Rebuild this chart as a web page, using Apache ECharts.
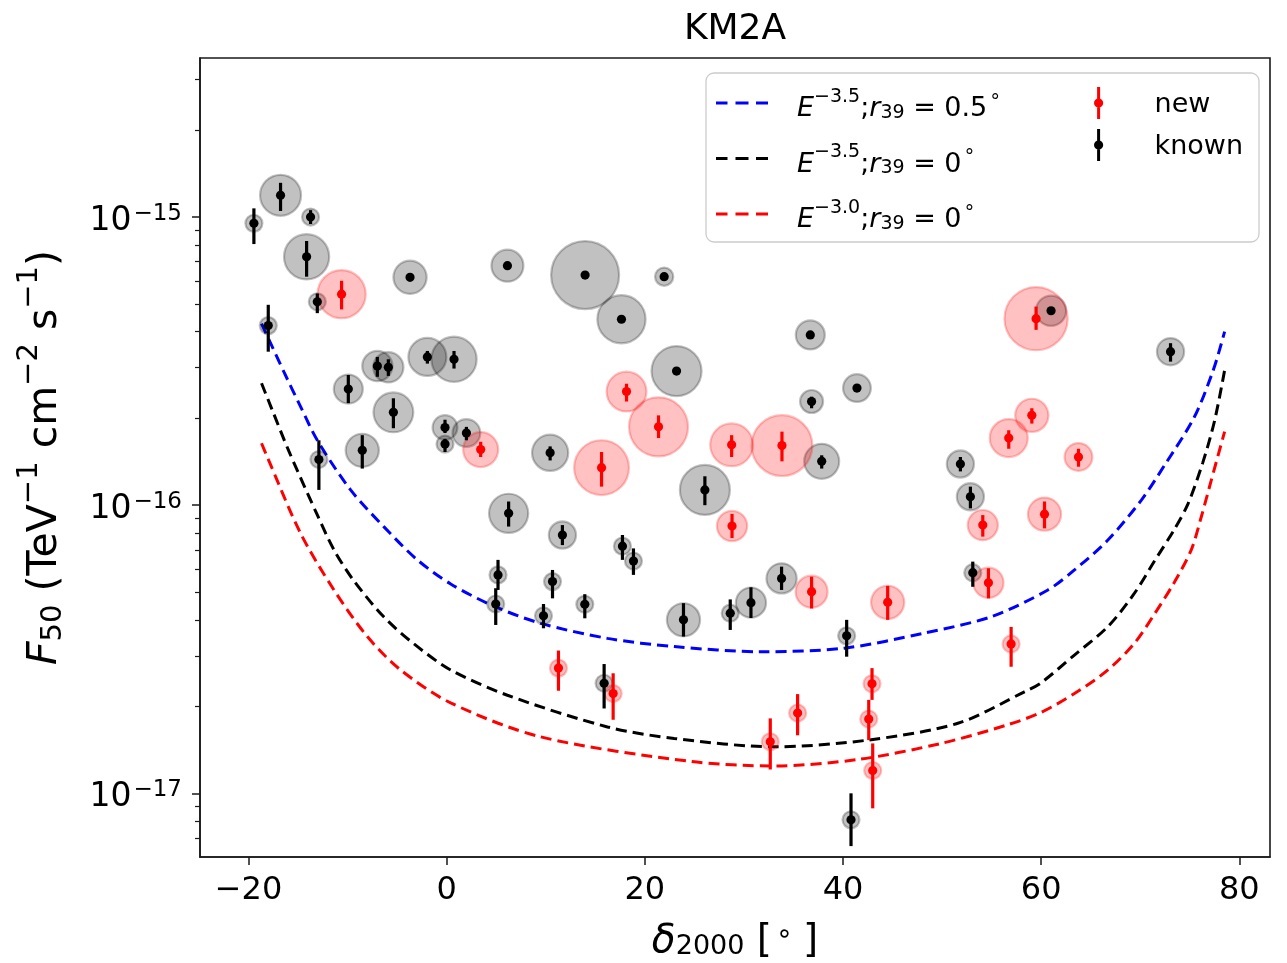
<!DOCTYPE html>
<html>
<head>
<meta charset="utf-8">
<title>KM2A</title>
<script src="https://cdn.jsdelivr.net/npm/echarts@6/dist/echarts.min.js"></script>
<style>
  html, body { margin: 0; padding: 0; background: #ffffff; }
  #chart { width: 1287px; height: 963px; }
</style>
</head>
<body>
<div id="chart"></div>
<script>
// ---------------------------------------------------------------------------
// Known sources: declination [deg], F50 flux, lower / upper error, extension
// ---------------------------------------------------------------------------
const knownDec  = [-16.77, -19.46, -13.74, -14.14, -13.06, -3.70, 6.13, -18.01, -7.00, -5.89,
                   -1.95, 0.74, -9.93, -5.38, -0.17, -0.17, 1.99, 10.44, -12.90, -8.52,
                   6.25, 13.97, 21.95, 17.64, 23.20, 36.70, 41.41, 36.83, 37.85, 26.06,
                   61.00, 73.06, 51.85, 52.86, 11.68, 17.74, 18.85, 5.18, 4.95, 10.68,
                   13.94, 9.77, 23.90, 28.62, 30.71, 15.89, 33.80, 40.37, 53.10, 40.81];
const knownFlux = [1.19e-15, 9.51e-16, 1.00e-15, 7.28e-16, 5.08e-16, 6.18e-16, 6.78e-16, 4.20e-16, 3.04e-16, 3.01e-16,
                   3.27e-16, 3.21e-16, 2.53e-16, 2.10e-16, 1.86e-16, 1.63e-16, 1.78e-16, 1.52e-16, 1.44e-16, 1.55e-16,
                   9.37e-17, 6.29e-16, 6.21e-16, 4.42e-16, 2.92e-16, 3.90e-16, 2.55e-16, 2.29e-16, 1.42e-16, 1.13e-16,
                   4.73e-16, 3.41e-16, 1.39e-16, 1.07e-16, 7.88e-17, 7.21e-17, 6.40e-17, 5.73e-17, 4.54e-17, 5.43e-17,
                   4.53e-17, 4.13e-17, 4.00e-17, 4.22e-17, 4.59e-17, 2.41e-17, 5.57e-17, 3.52e-17, 5.83e-17, 8.09e-18];
const knownLow  = [1.05e-15, 8.06e-16, 9.46e-16, 6.21e-16, 4.64e-16, 6.00e-16, 6.58e-16, 3.41e-16, 2.79e-16, 2.81e-16,
                   3.10e-16, 2.98e-16, 2.26e-16, 1.85e-16, 1.78e-16, 1.53e-16, 1.68e-16, 1.43e-16, 1.13e-16, 1.34e-16,
                   8.43e-17, 6.12e-16, 6.05e-16, 4.30e-16, 2.84e-16, 3.80e-16, 2.48e-16, 2.17e-16, 1.34e-16, 1.00e-16,
                   4.60e-16, 3.15e-16, 1.31e-16, 9.75e-17, 7.27e-17, 6.46e-17, 5.73e-17, 5.08e-17, 3.84e-17, 4.75e-17,
                   4.05e-17, 3.74e-17, 3.50e-17, 3.69e-17, 4.06e-17, 1.97e-17, 5.08e-17, 2.98e-17, 5.21e-17, 6.56e-18];
const knownHigh = [1.315e-15, 1.072e-15, 1.057e-15, 8.26e-16, 5.43e-16, 6.36e-16, 6.98e-16, 4.96e-16, 3.27e-16, 3.21e-16,
                   3.43e-16, 3.43e-16, 2.83e-16, 2.35e-16, 1.98e-16, 1.70e-16, 1.87e-16, 1.60e-16, 1.68e-16, 1.75e-16,
                   1.03e-16, 6.46e-16, 6.38e-16, 4.55e-16, 3.00e-16, 4.00e-16, 2.62e-16, 2.38e-16, 1.49e-16, 1.26e-16,
                   4.86e-16, 3.65e-16, 1.47e-16, 1.16e-16, 8.53e-17, 7.88e-17, 7.08e-17, 6.46e-17, 5.15e-17, 5.96e-17,
                   4.91e-17, 4.54e-17, 4.57e-17, 4.71e-17, 5.19e-17, 2.81e-17, 6.12e-17, 4.00e-17, 6.37e-17, 1.00e-17];
const knownExt  = [0.40, 0.00, 0.00, 0.47, 0.00, 0.27, 0.25, 0.00, 0.22, 0.22,
                   0.35, 0.47, 0.20, 0.38, 0.13, 0.00, 0.18, 0.32, 0.00, 0.27,
                   0.37, 0.85, 0.02, 0.52, 0.55, 0.20, 0.18, 0.10, 0.30, 0.55,
                   0.22, 0.17, 0.17, 0.17, 0.17, 0.00, 0.00, 0.00, 0.00, 0.00,
                   0.00, 0.00, 0.27, 0.00, 0.22, 0.00, 0.22, 0.00, 0.00, 0.00];

// ---------------------------------------------------------------------------
// New sources
// ---------------------------------------------------------------------------
const newDec  = [-10.61, 3.43, 18.15, 21.38, 28.76, 33.84, 15.63, 28.80, 59.49, 59.06,
                 56.73, 63.77, 60.34, 54.11, 11.28, 16.80, 36.83, 44.51, 54.68, 56.97,
                 32.66, 35.42, 42.93, 42.60, 43.00];
const newFlux = [5.40e-16, 1.56e-16, 2.48e-16, 1.87e-16, 1.62e-16, 1.61e-16, 1.35e-16, 8.47e-17, 4.44e-16, 2.05e-16,
                 1.71e-16, 1.47e-16, 9.31e-17, 8.53e-17, 2.72e-17, 2.22e-17, 5.01e-17, 4.60e-17, 5.38e-17, 3.30e-17,
                 1.51e-17, 1.90e-17, 2.40e-17, 1.81e-17, 1.20e-17];
const newLow  = [4.78e-16, 1.47e-16, 2.29e-16, 1.71e-16, 1.47e-16, 1.42e-16, 1.16e-16, 7.69e-17, 4.06e-16, 1.92e-16,
                 1.57e-16, 1.36e-16, 8.31e-17, 7.78e-17, 2.27e-17, 1.80e-17, 4.38e-17, 4.00e-17, 4.75e-17, 2.75e-17,
                 1.21e-17, 1.59e-17, 2.11e-17, 1.53e-17, 8.87e-18];
const newHigh = [6.01e-16, 1.66e-16, 2.64e-16, 2.05e-16, 1.75e-16, 1.80e-16, 1.53e-16, 9.33e-17, 4.89e-16, 2.17e-16,
                 1.82e-16, 1.57e-16, 1.03e-16, 9.24e-17, 3.13e-17, 2.61e-17, 5.65e-17, 5.25e-17, 6.04e-17, 3.78e-17,
                 1.82e-17, 2.21e-17, 2.72e-17, 2.11e-17, 1.49e-17];
const newExt  = [0.52, 0.30, 0.38, 0.70, 0.43, 0.73, 0.63, 0.22, 0.77, 0.27,
                 0.35, 0.18, 0.27, 0.22, 0.00, 0.00, 0.25, 0.27, 0.22, 0.00,
                 0.00, 0.00, 0.00, 0.00, 0.00];

// ---------------------------------------------------------------------------
// Sensitivity curves
// ---------------------------------------------------------------------------
const softExtDec  = [-18.69, -16.43, -14.75, -13.06, -9.70, -6.33, -2.96, 0.40, 4.78, 9.49,
                     16.23, 22.96, 31.72, 40.13, 48.21, 54.95, 60.68, 63.36, 66.74, 70.10,
                     72.42, 75.45, 77.37, 78.52];
const softExtFlux = [4.27e-16, 2.90e-16, 2.20e-16, 1.68e-16, 1.13e-16, 8.41e-17, 6.46e-17, 5.33e-17, 4.46e-17, 3.89e-17,
                     3.45e-17, 3.23e-17, 3.10e-17, 3.19e-17, 3.60e-17, 4.10e-17, 5.08e-17, 5.96e-17, 7.57e-17, 1.04e-16,
                     1.37e-16, 2.02e-16, 2.94e-16, 4.00e-16];

const softPointDec  = [-18.69, -17.61, -15.93, -13.06, -11.38, -9.36, -6.33, -3.30, 0.40, 6.13,
                       16.23, 22.96, 33.06, 42.50, 51.59, 58.31, 60.00, 63.36, 66.74, 69.42,
                       71.44, 73.46, 74.82, 76.30, 77.50, 78.52];
const softPointFlux = [2.65e-16, 2.14e-16, 1.54e-16, 9.25e-17, 7.00e-17, 5.46e-17, 4.09e-17, 3.30e-17, 2.68e-17, 2.19e-17,
                       1.70e-17, 1.55e-17, 1.45e-17, 1.53e-17, 1.75e-17, 2.25e-17, 2.42e-17, 3.02e-17, 3.79e-17, 4.95e-17,
                       6.40e-17, 8.26e-17, 1.01e-16, 1.40e-16, 1.96e-16, 2.94e-16];

const hardPointDec  = [-18.69, -18.11, -14.75, -11.38, -8.01, -4.65, 0.40, 9.49, 24.65, 33.06,
                       41.48, 49.90, 56.63, 60.00, 63.36, 66.74, 69.42, 71.44, 73.46, 75.15,
                       76.16, 77.17, 78.52];
const hardPointFlux = [1.64e-16, 1.47e-16, 7.99e-17, 5.08e-17, 3.50e-17, 2.68e-17, 2.06e-17, 1.57e-17, 1.29e-17, 1.245e-17,
                       1.31e-17, 1.49e-17, 1.73e-17, 1.91e-17, 2.22e-17, 2.68e-17, 3.32e-17, 4.19e-17, 5.41e-17, 7.00e-17,
                       9.10e-17, 1.22e-16, 1.80e-16];

// ---------------------------------------------------------------------------
// Axis ticks
// ---------------------------------------------------------------------------
const xTicks       = [-20, 0, 20, 40, 60, 80];
const yMajorTicks  = [1e-17, 1e-16, 1e-15];
const yMinorTicks  = [7e-18, 8e-18, 9e-18,
                      2e-17, 3e-17, 4e-17, 5e-17, 6e-17, 7e-17, 8e-17, 9e-17,
                      2e-16, 3e-16, 4e-16, 5e-16, 6e-16, 7e-16, 8e-16, 9e-16,
                      2e-15, 3e-15];

// ---------------------------------------------------------------------------
const FONT = 'DejaVu Sans';
const MINUS = '\u2212';
const X_MIN = -24.9, X_MAX = 83.1;
const Y_MIN = 6.012e-18, Y_MAX = 3.565e-15;
const AXIS_COLOR = '#1a1a1a';

const zip = (...cols) => cols[0].map((_, i) => cols.map(c => c[i]));

const knownErr  = zip(knownDec, knownFlux, knownLow, knownHigh);
const newErr    = zip(newDec, newFlux, newLow, newHigh);
const knownHalo = zip(knownDec, knownFlux, knownExt);
const newHalo   = zip(newDec, newFlux, newExt);

// halo diameter grows with source extension
const haloSize = v => 17 + 60 * v[2];

function errorBar(color) {
  return function (params, api) {
    const x = api.value(0);
    const c = api.coord([x, api.value(1)]);
    const lo = api.coord([x, api.value(2)]);
    const hi = api.coord([x, api.value(3)]);
    return {
      type: 'group',
      children: [
        { type: 'line', shape: { x1: hi[0], y1: hi[1], x2: lo[0], y2: lo[1] },
          style: { stroke: color, lineWidth: 3.2 } },
        { type: 'circle', shape: { cx: c[0], cy: c[1], r: 4.6 },
          style: { fill: color } }
      ]
    };
  };
}

function curve(name, color, dec, flux) {
  return {
    name, type: 'line', data: zip(dec, flux), symbol: 'none', smooth: 0.3,
    silent: true, z: 1,
    lineStyle: { color, width: 3, type: [11, 6] },
    itemStyle: { color }
  };
}

function halo(name, rgb, data) {
  return {
    name, type: 'scatter', data, symbol: 'circle', symbolSize: haloSize, silent: true, z: 2,
    itemStyle: { color: 'rgba(' + rgb + ',0.3)', borderColor: 'rgba(' + rgb + ',0.3)', borderWidth: 2.2 }
  };
}

const txt = (size, extra) => Object.assign({ fontFamily: FONT, fontSize: size, color: '#000' }, extra || {});

const legendRich = {
  g:   { width: 24 },
  i:   txt(27, { fontStyle: 'italic', padding: [12, 0, 0, 0] }),
  t:   txt(27, { padding: [12, 0, 0, 0] }),
  sup: txt(19, { padding: [0, 0, 12, 0] }),
  sub: txt(19, { padding: [20, 0, 0, 0] }),
  deg: txt(19, { padding: [0, 0, 12, 2] })
};

const curveLabels = {
  'soft-ext':   '{g| }{i|E}{sup|' + MINUS + '3.5}{t|;}{i|r}{sub|39}{t| = 0.5}{deg|\u2218}',
  'soft-point': '{g| }{i|E}{sup|' + MINUS + '3.5}{t|;}{i|r}{sub|39}{t| = 0}{deg|\u2218}',
  'hard-point': '{g| }{i|E}{sup|' + MINUS + '3.0}{t|;}{i|r}{sub|39}{t| = 0}{deg|\u2218}'
};

// legend handles: three short dashes, and an error bar with its centre dot
const dashIcon = 'path://M0 0H11.5V3H0Z M19.5 0H32.5V3H19.5Z M40 0H52V3H40Z';
const barIcon = 'path://M3.5 0L6.5 0L6.5 32L3.5 32Z M5 11.4A4.6 4.6 0 1 1 5 20.6A4.6 4.6 0 1 1 5 11.4Z';

const chart = echarts.init(document.getElementById('chart'), null, { renderer: 'canvas' });

chart.setOption({
  animation: false,
  backgroundColor: '#ffffff',
  title: {
    text: 'KM2A', left: 735, top: 12, textAlign: 'center', padding: 0,
    textStyle: { fontFamily: FONT, fontSize: 36, fontWeight: 'normal', color: '#000' }
  },
  grid: {
    left: 200, right: 17, top: 58, bottom: 106, containLabel: false, outerBoundsMode: 'none',
    show: true, borderColor: AXIS_COLOR, borderWidth: 1.6, backgroundColor: 'rgba(0,0,0,0)'
  },
  xAxis: {
    type: 'value', min: X_MIN, max: X_MAX,
    name: '{i|\u03b4}{sub|2000}{t| [}{deg|\u2218}{t|]}',
    nameLocation: 'middle', nameGap: 63,
    nameTextStyle: {
      lineHeight: 40,
      rich: {
        i:   txt(39, { fontStyle: 'italic', padding: [4, 0, 0, 0] }),
        t:   txt(39, { padding: [4, 0, 0, 0] }),
        sub: txt(27, { padding: [14, 0, 0, 0] }),
        deg: txt(27, { padding: [0, 10, 10, 4] })
      }
    },
    axisLine: { show: true, onZero: false, lineStyle: { color: AXIS_COLOR, width: 1.6 } },
    axisTick: { show: true, customValues: xTicks, length: 8, lineStyle: { color: AXIS_COLOR, width: 1.5 } },
    axisLabel: {
      customValues: xTicks, margin: 18, fontFamily: FONT, fontSize: 32, color: '#000', lineHeight: 32,
      formatter: v => (v < 0 ? MINUS + Math.abs(v) : String(v))
    },
    splitLine: { show: false }
  },
  yAxis: [
    {
      type: 'log', logBase: 10, min: Y_MIN, max: Y_MAX, position: 'left',
      name: '{i|F}{sub|50}{t| (TeV}{sup|' + MINUS + '1}{t| cm}{sup|' + MINUS + '2}{t| s}{sup|' + MINUS + '1}{t|)}',
      nameLocation: 'middle', nameRotate: 90, nameGap: 135,
      nameTextStyle: {
        lineHeight: 44,
        rich: {
          i:   txt(41, { fontStyle: 'italic', padding: [4, 0, 0, 0] }),
          t:   txt(41, { padding: [4, 0, 0, 0] }),
          sub: txt(29, { padding: [20, 0, 0, 0] }),
          sup: txt(29, { padding: [0, 0, 28, 0] })
        }
      },
      axisLine: { show: true, onZero: false, lineStyle: { color: AXIS_COLOR, width: 1.6 } },
      axisTick: { show: true, customValues: yMajorTicks, length: 8, lineStyle: { color: AXIS_COLOR, width: 1.5 } },
      axisLabel: {
        customValues: yMajorTicks, margin: 18, lineHeight: 36,
        formatter: v => '{b|10}{s|' + MINUS + Math.abs(Math.round(Math.log10(v))) + '}',
        rich: {
          b: txt(33, { padding: [8, 0, 0, 0] }),
          s: txt(23, { padding: [0, 0, 6, 2] })
        }
      },
      splitLine: { show: false }
    },
    {
      type: 'log', logBase: 10, min: Y_MIN, max: Y_MAX, position: 'left',
      axisLine: { show: false, onZero: false },
      axisTick: { show: true, customValues: yMinorTicks, length: 5, lineStyle: { color: AXIS_COLOR, width: 1.2 } },
      axisLabel: { show: false },
      splitLine: { show: false }
    }
  ],
  legend: [
    {
      data: [
        { name: 'soft-ext', icon: dashIcon },
        { name: 'soft-point', icon: dashIcon },
        { name: 'hard-point', icon: dashIcon }
      ],
      orient: 'vertical', left: 716, top: 86, padding: 0,
      itemWidth: 52, itemHeight: 3, itemGap: 19, selectedMode: false, z: 5,
      formatter: name => curveLabels[name],
      textStyle: { fontFamily: FONT, fontSize: 27, color: '#000', lineHeight: 34, rich: legendRich }
    },
    {
      data: [{ name: 'new', icon: barIcon }, { name: 'known', icon: barIcon }],
      orient: 'vertical', left: 1094, top: 86, padding: 0,
      itemWidth: 10, itemHeight: 32, itemGap: 8, selectedMode: false, z: 5,
      formatter: name => '{g| }{t|' + name + '}',
      textStyle: {
        fontFamily: FONT, fontSize: 27, color: '#000', lineHeight: 34,
        rich: { g: { width: 46 }, t: txt(27, { padding: [4, 0, 0, 0] }) }
      }
    }
  ],
  graphic: [
    {
      type: 'rect', z: 4, silent: true,
      shape: { x: 706, y: 73, width: 553, height: 169, r: 8 },
      style: { fill: 'rgba(255,255,255,0.8)', stroke: '#cccccc', lineWidth: 1.3 }
    }
  ],
  series: [
    curve('soft-ext', '#0000ff', softExtDec, softExtFlux),
    curve('soft-point', '#000000', softPointDec, softPointFlux),
    curve('hard-point', '#ff0000', hardPointDec, hardPointFlux),
    halo('known extent', '0,0,0', knownHalo),
    halo('new extent', '255,0,0', newHalo),
    {
      name: 'known', type: 'custom', data: knownErr, renderItem: errorBar('#000000'),
      encode: { x: 0, y: [1, 2, 3] }, silent: true, z: 3, itemStyle: { color: '#000000' }
    },
    {
      name: 'new', type: 'custom', data: newErr, renderItem: errorBar('#ff0000'),
      encode: { x: 0, y: [1, 2, 3] }, silent: true, z: 3, itemStyle: { color: '#ff0000' }
    }
  ]
});
</script>
</body>
</html>
